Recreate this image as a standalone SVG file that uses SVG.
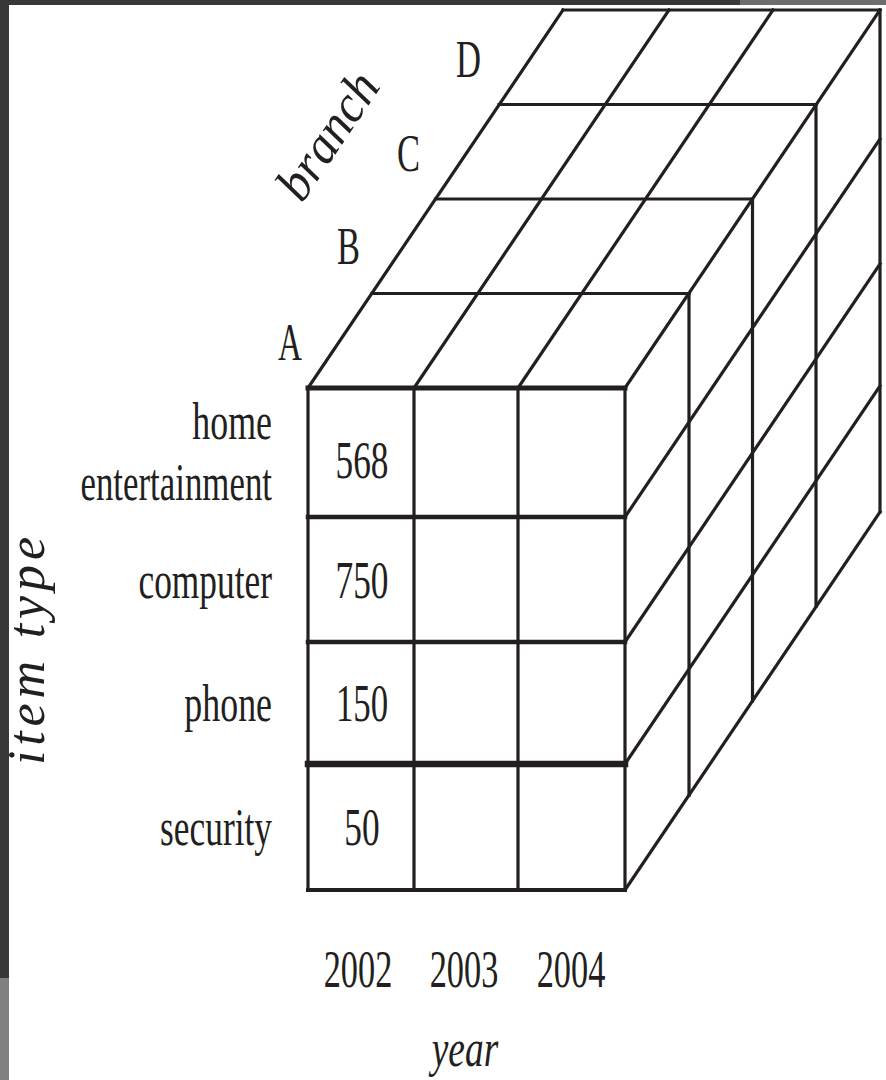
<svg xmlns="http://www.w3.org/2000/svg" width="886" height="1080" viewBox="0 0 886 1080">
<style>
.ln{stroke:#231f20;stroke-width:3.2;fill:none;stroke-linecap:square}
.t{font-family:"Liberation Serif","Times New Roman",serif;font-size:52px;fill:#231f20}
.i{font-style:italic}
.e{text-anchor:end}
.m{text-anchor:middle}
</style>
<rect x="0" y="0" width="886" height="1080" fill="#ffffff"/>
<rect x="0" y="0" width="740" height="5" fill="#383838"/>
<rect x="740" y="0" width="146" height="5" fill="#6e6e6e"/>
<rect x="0" y="0" width="9" height="978" fill="#383838"/>
<rect x="0" y="978" width="9" height="102" fill="#808080"/>
<g id="connectors">
<line class="ln" x1="308" y1="388" x2="625" y2="388" style="stroke-width:5"/>
<line class="ln" x1="372" y1="293.5" x2="689" y2="293.5"/>
<line class="ln" x1="435.5" y1="199" x2="752.5" y2="199"/>
<line class="ln" x1="499" y1="104.5" x2="816" y2="104.5"/>
<line class="ln" x1="563" y1="10" x2="880" y2="10"/>
<line class="ln" x1="308" y1="388" x2="563" y2="10"/>
<line class="ln" x1="414" y1="388" x2="669" y2="10"/>
<line class="ln" x1="518" y1="388" x2="773" y2="10"/>
<line class="ln" x1="625" y1="388" x2="880" y2="10"/>
<line class="ln" x1="308" y1="388" x2="308" y2="890"/>
<line class="ln" x1="414" y1="388" x2="414" y2="890"/>
<line class="ln" x1="518" y1="388" x2="518" y2="890"/>
<line class="ln" x1="625" y1="388" x2="625" y2="890"/>
<line class="ln" x1="308" y1="517" x2="625" y2="517" style="stroke-width:4.5"/>
<line class="ln" x1="308" y1="642" x2="625" y2="642" style="stroke-width:4.5"/>
<line class="ln" x1="308" y1="764" x2="625" y2="764" style="stroke-width:6.5"/>
<line class="ln" x1="308" y1="890" x2="625" y2="890" style="stroke-width:4"/>
<line class="ln" x1="689" y1="293.5" x2="689" y2="795.5"/>
<line class="ln" x1="752.5" y1="199" x2="752.5" y2="701"/>
<line class="ln" x1="816" y1="104.5" x2="816" y2="606.5"/>
<line class="ln" x1="880" y1="10" x2="880" y2="512"/>
<line class="ln" x1="625" y1="517" x2="880" y2="139"/>
<line class="ln" x1="625" y1="642" x2="880" y2="264"/>
<line class="ln" x1="625" y1="764" x2="880" y2="386"/>
<line class="ln" x1="625" y1="890" x2="880" y2="512"/>
</g>
<g id="branch-labels">
<text class="t" x="278" y="360" textLength="24" lengthAdjust="spacingAndGlyphs">A</text>
<text class="t" x="337" y="264" textLength="23" lengthAdjust="spacingAndGlyphs">B</text>
<text class="t" x="397" y="171" textLength="23" lengthAdjust="spacingAndGlyphs">C</text>
<text class="t" x="456" y="77" textLength="25" lengthAdjust="spacingAndGlyphs">D</text>
<text class="t i" transform="translate(302,204) rotate(-56)" textLength="142" lengthAdjust="spacingAndGlyphs">branch</text>
</g>
<g id="item-labels">
<text class="t e" transform="translate(272,439) scale(0.69,1)">home</text>
<text class="t e" transform="translate(272,500) scale(0.67,1)">entertainment</text>
<text class="t e" transform="translate(272,598) scale(0.68,1)">computer</text>
<text class="t e" transform="translate(272,721) scale(0.69,1)">phone</text>
<text class="t e" transform="translate(272,845) scale(0.68,1)">security</text>
<text class="t i m" transform="translate(44,651) rotate(-90)" font-size="38" textLength="228" lengthAdjust="spacing">item type</text>
</g>
<g id="values">
<text class="t m" transform="translate(362,478) scale(0.68,1)">568</text>
<text class="t m" transform="translate(362,598) scale(0.68,1)">750</text>
<text class="t m" transform="translate(362,721) scale(0.67,1)">150</text>
<text class="t m" transform="translate(362,845) scale(0.68,1)">50</text>
</g>
<g id="year-labels">
<text class="t m" transform="translate(358,987) scale(0.66,1)">2002</text>
<text class="t m" transform="translate(464,987) scale(0.66,1)">2003</text>
<text class="t m" transform="translate(571,987) scale(0.66,1)">2004</text>
<text class="t i m" transform="translate(465,1066) scale(0.72,1)">year</text>
</g>
</svg>
